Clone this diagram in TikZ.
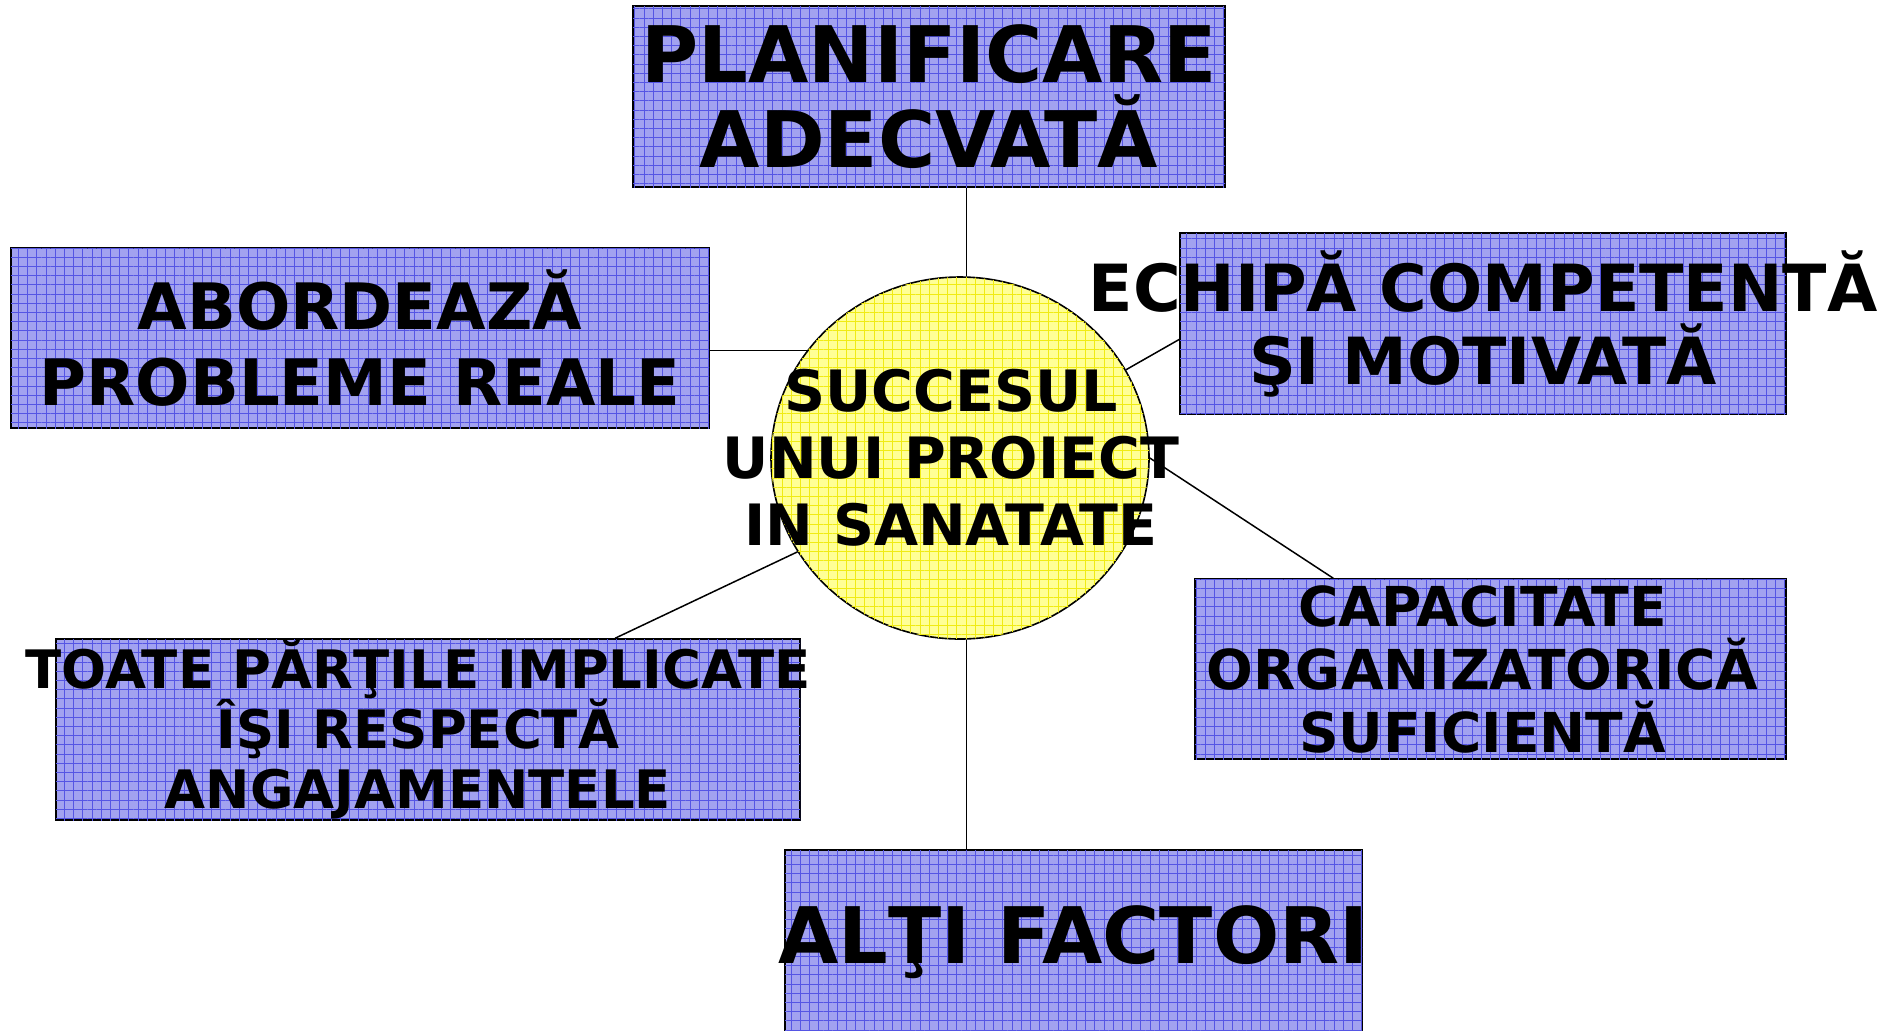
\documentclass[tikz,border=0pt]{standalone}
\usepackage{fontspec}
\setmainfont{DejaVu Sans}
\usetikzlibrary{shapes.geometric,patterns.meta}
\definecolor{boxblue}{RGB}{162,162,240}
\definecolor{gridblue}{RGB}{85,85,228}
\definecolor{sunfill}{RGB}{255,255,150}
\definecolor{sungrid}{RGB}{240,235,20}
\newcommand{\fsz}[2]{\fontsize{#1}{#2}\selectfont\bfseries}

\begin{document}
\begin{tikzpicture}[x=0.5pt,y=-0.5pt,
    factor/.style={draw,line width=0.8pt,fill=boxblue,
      postaction={pattern={Hatch[angle=0,distance=4.6pt,line width=0.35pt]},pattern color=gridblue}},
    link/.style={line width=0.75pt}]
    \useasboundingbox (0,0) rectangle (1880,1030);

    % centre
    \node[ellipse,draw,line width=0.8pt,fill=sunfill,inner sep=0pt,minimum width=189pt,minimum height=181pt,
      postaction={pattern={Hatch[angle=0,distance=4.6pt,line width=0.35pt]},pattern color=sungrid},
      label={[font={\fsz{28.5pt}{33.5pt}},align=center,xshift=-4.5pt]center:{SUCCESUL\\UNUI PROIECT\\IN SANATATE}}]
      (circ) at (960,458) {};

    % factors
    \node[factor,minimum width=296pt,minimum height=90.5pt,
      label={[font={\fsz{39pt}{42.5pt}},align=center]center:{PLANIFICARE\\ADECVATĂ}}]
      (plan) at (929,96.5) {};
    \node[factor,minimum width=349pt,minimum height=90pt,
      label={[font={\fsz{32pt}{38pt}},align=center]center:{ABORDEAZĂ\\PROBLEME REALE}}]
      (abord) at (360,338) {};
    \node[factor,minimum width=303pt,minimum height=90.5pt,
      label={[font={\fsz{32.5pt}{36.5pt}},align=center]center:{ECHIPĂ COMPETENTĂ\\ŞI MOTIVATĂ}}]
      (echipa) at (1483,323.5) {};
    \node[factor,minimum width=295.5pt,minimum height=90pt,
      label={[font={\fsz{27.5pt}{31.5pt}},align=center,xshift=-4pt]center:{CAPACITATE\\ORGANIZATORICĂ\\SUFICIENTĂ}}]
      (capac) at (1490.5,669) {};
    \node[factor,minimum width=372pt,minimum height=90.5pt,
      label={[font={\fsz{26.5pt}{30pt}},align=center,xshift=-5pt]center:{TOATE PĂRŢILE IMPLICATE\\ÎŞI RESPECTĂ\\ANGAJAMENTELE}}]
      (toate) at (428,729.5) {};
    \node[factor,minimum width=288.5pt,minimum height=92.5pt,
      label={[font={\fsz{39pt}{42pt}},align=center]center:{ALŢI FACTORI}}]
      (alti) at (1073.5,942.5) {};

    % links
    \draw[link] (circ.88) -- (circ.88 |- plan.south);
    \draw[link] (circ.145) -- (circ.145 -| abord.east);
    \draw[link] (circ.28) -- (echipa.183);
    \draw[link] (circ.0) -- (capac.150);
    \draw[link] (circ.210) -- (toate.26);
    \draw[link] (circ.272) -- (circ.272 |- alti.north);
\end{tikzpicture}
\end{document}
